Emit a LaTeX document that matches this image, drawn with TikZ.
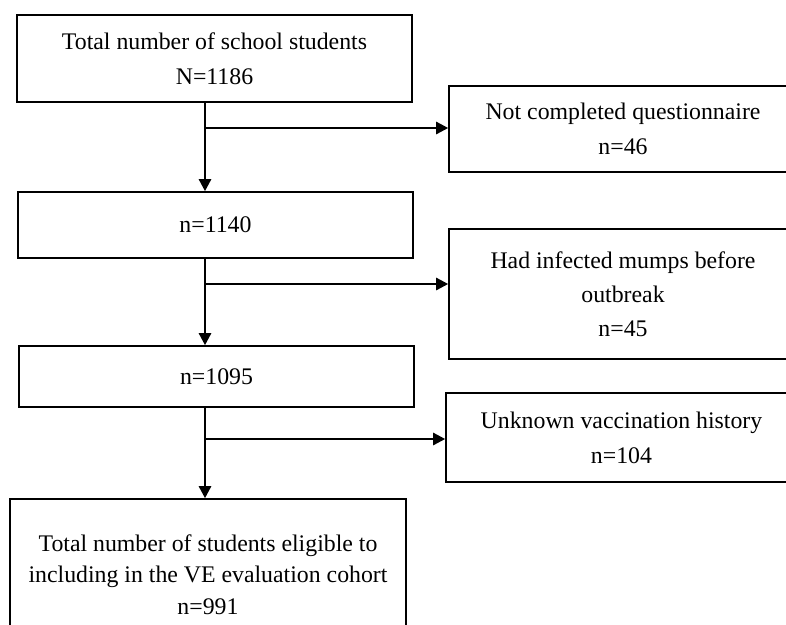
\documentclass[tikz,border=0pt]{standalone}
\usepackage{fontspec}
\setmainfont{Liberation Serif}
\usetikzlibrary{arrows.meta}
\begin{document}
\begin{tikzpicture}[x=1pt,y=-1pt,
  box/.style={draw=black, line width=1.8pt, align=center, inner sep=0pt,
    font=\fontsize{23.8}{35}\selectfont},
  arr/.style={draw=black, line width=1.3pt, -{Triangle[length=12pt,width=12.5pt]}},
  ln/.style={draw=black, line width=1.3pt}]
\clip (0,0) rectangle (786,624);
\fill[white] (0,0) rectangle (786,624);
% left column
\node[box, minimum width=395pt, minimum height=87pt] (b1) at (214.5,58.5)
  {Total number of school students\\N=1186};
\node[box, minimum width=395pt, minimum height=66pt] (b2) at (215.5,225) {n=1140};
\node[box, minimum width=395pt, minimum height=61pt] (b3) at (216.5,376.5) {n=1095};
\node[box, minimum width=396pt, minimum height=151pt,
  font=\fontsize{23.8}{31.5}\selectfont] (b4) at (208,574.5)
  {Total number of students eligible to\\including in the VE evaluation cohort\\n=991};
% right column
\node[box, minimum width=348pt, minimum height=86pt] (r1) at (623,129)
  {Not completed questionnaire\\n=46};
\node[box, minimum width=348pt, minimum height=130pt,
  font=\fontsize{23.8}{34}\selectfont] (r2) at (623,294)
  {Had infected mumps before\\outbreak\\n=45};
\node[box, minimum width=351pt, minimum height=89pt] (r3) at (621.5,437.5)
  {Unknown vaccination history\\n=104};
% junctions
\coordinate (j1) at (205,128);
\coordinate (j2) at (205,284);
\coordinate (j3) at (205,439);
% connectors
\draw[arr] (j1 |- b1.south) -- (j1 |- b2.north);
\draw[arr] (j1) -- (j1 -| r1.west);
\draw[arr] (j2 |- b2.south) -- (j2 |- b3.north);
\draw[arr] (j2) -- (j2 -| r2.west);
\draw[arr] (j3 |- b3.south) -- (j3 |- b4.north);
\draw[arr] (j3) -- (j3 -| r3.west);
\end{tikzpicture}
\end{document}
